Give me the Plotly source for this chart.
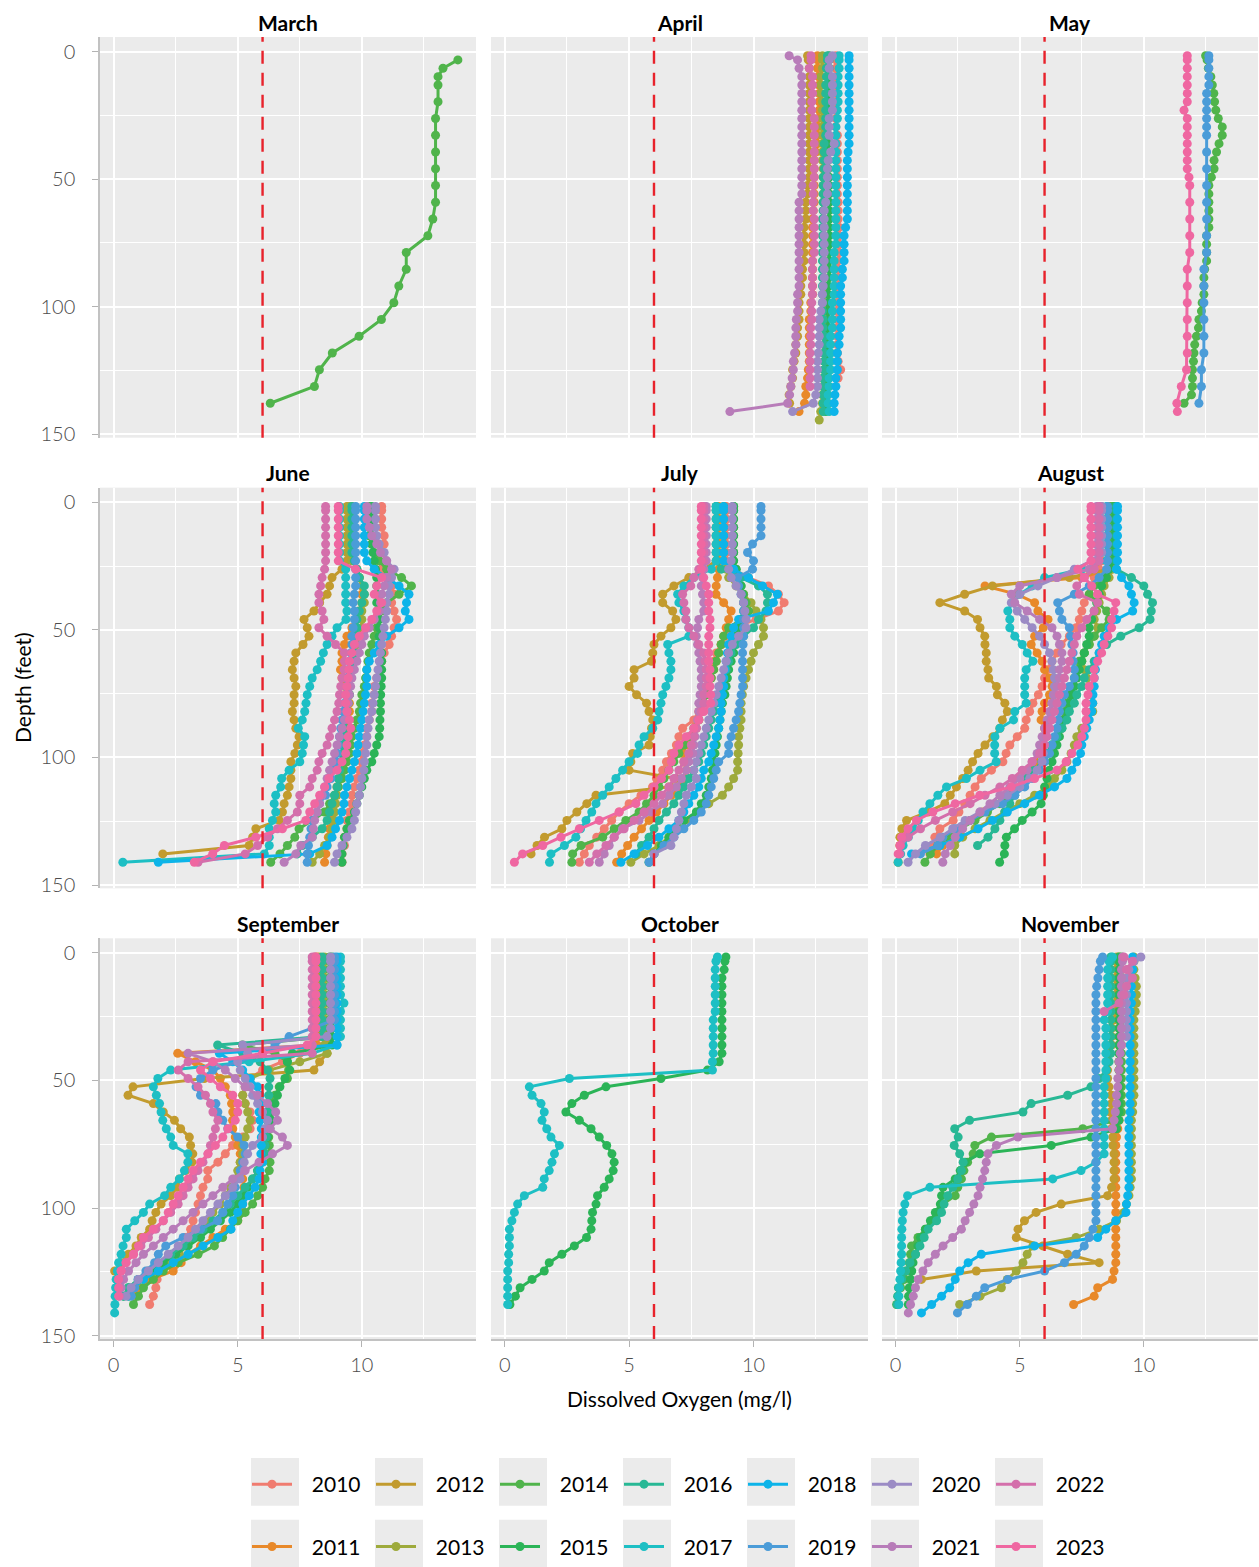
import plotly.graph_objects as go

# ---------------- data ----------------
DEPTH_M = [0.5, 1, 2, 3, 4, 5, 6, 7, 8, 9, 10, 11, 12, 13, 14, 15, 16, 17, 18, 19,
           20, 21, 22, 23, 24, 25, 26, 27, 28, 29, 30, 31, 32, 33, 34, 35, 36, 37, 38, 39,
           40, 41, 42, 43, 44]
FT_PER_M = 3.28084

MONTHS = ["March", "April", "May", "June", "July", "August", "September", "October", "November"]
YEARS = [2010, 2011, 2012, 2013, 2014, 2015, 2016, 2017, 2018, 2019, 2020, 2021, 2022, 2023]
COLORS = ["#F07C70", "#E8892A", "#C29B2E", "#9EAA3C", "#50B44B", "#2BB457", "#28B895",
          "#1DBFC4", "#0DB4E9", "#4B9CD8", "#9B8BC5", "#B87CB9", "#D46FAB", "#EF67A1"]

MARCH = {
    2014: [13.87, 13.27, 13.07, 13.07, 13.07, 12.97, 12.97, 12.97, 12.97, 12.97, 12.97, 12.86,
           12.66, 11.79, 11.79, 11.49, 11.29, 10.79, 9.89, 8.81, 8.29, 8.09, 6.31],
}
MARCH_DEPTHS = {
    2014: [1, 2, 3, 4, 6, 8, 10, 12, 14, 16, 18, 20, 22, 24, 26, 28, 30, 32, 34, 36, 38, 40, 42],
}

APRIL = {
    2010: [13.31, 13.31, 13.31, 13.31, 13.31, 13.31, 13.31, 13.31, 13.31, 13.31,
           13.37, 13.37, 13.37, 13.37, 13.37, 13.37, 13.37, 13.37, 13.4, 13.4,
           13.4, 13.44, 13.44, 13.44, 13.44, 13.4, 13.4, 13.4, 13.37, 13.37,
           13.37, 13.37, 13.37, 13.37, 13.37, 13.37, 13.37, 13.4, 13.5, 13.4],
    2011: [12.57, 12.57, 12.57, 12.6, 12.64, 12.64, 12.64, 12.64, 12.6, 12.57,
           12.57, 12.57, 12.5, 12.44, 12.44, 12.44, 12.44, 12.44, 12.44, 12.4,
           12.37, 12.37, 12.37, 12.37, 12.37, 12.37, 12.37, 12.37, 12.37, 12.37,
           12.3, 12.3, 12.24, 12.24, 12.24, 12.24, 12.24, 12.24, 12.2, 12.17,
           12.1, 12.1, 12.05, 11.83],
    2012: [12.17, 12.2, 12.24, 12.24, 12.24, 12.24, 12.24, 12.24, 12.24, 12.24,
           12.24, 12.24, 12.24, 12.24, 12.24, 12.24, 12.17, 12.17, 12.1, 12.1,
           12.1, 12.03, 12.03, 12.03, 12.03, 12.03, 11.97, 11.97, 11.9, 11.9,
           11.83, 11.83, 11.83, 11.77, 11.77, 11.7, 11.7, 11.63, 11.57, 11.57,
           11.5, 11.43, 11.45],
    2013: [12.77, 12.77, 12.77, 12.7, 12.7, 12.7, 12.77, 12.77, 12.77, 12.77,
           12.77, 12.77, 12.77, 12.77, 12.8, 12.8, 12.8, 12.8, 12.8, 12.8,
           12.8, 12.84, 12.84, 12.84, 12.84, 12.84, 12.84, 12.84, 12.84, 12.84,
           12.84, 12.84, 12.84, 12.84, 12.84, 12.84, 12.84, 12.84, 12.84, 12.8,
           12.8, 12.77, 12.77, 12.7, 12.64],
    2015: [13.04, 13.04, 13.04, 13.04, 13.04, 13.04, 13.0, 13.0, 13.0, 13.0,
           13.0, 13.0, 13.0, 13.0, 13.0, 13.04, 13.04, 13.04, 13.04, 13.04,
           13.04, 13.04, 13.04, 13.04, 13.04, 13.04, 13.04, 13.04, 13.0, 13.0,
           13.0, 13.0, 13.0, 12.97, 12.97, 12.97, 12.97, 12.97, 12.97, 12.97,
           12.93, 12.93, 12.93, 12.9],
    2016: [12.97, 12.97, 12.93, 12.93, 12.9, 12.9, 12.9, 12.9, 12.9, 12.9,
           12.9, 12.84, 12.84, 12.84, 12.84, 12.8, 12.8, 12.8, 12.8, 12.8,
           12.77, 12.77, 12.77, 12.77, 12.77, 12.77, 12.77, 12.77, 12.77, 12.77,
           12.77, 12.77, 12.8, 12.8, 12.84, 12.84, 12.84, 12.84, 12.84, 12.8,
           12.8, 12.8, 12.8, 12.8],
    2017: [13.44, 13.44, 13.44, 13.4, 13.4, 13.4, 13.4, 13.37, 13.37, 13.31,
           13.31, 13.31, 13.31, 13.31, 13.31, 13.31, 13.31, 13.31, 13.31, 13.31,
           13.31, 13.31, 13.31, 13.31, 13.24, 13.24, 13.24, 13.24, 13.24, 13.24,
           13.17, 13.17, 13.17, 13.17, 13.1, 13.1, 13.1, 13.1, 13.1, 13.04,
           13.04, 13.0, 13.0, 13.04],
    2018: [13.84, 13.84, 13.84, 13.84, 13.84, 13.84, 13.84, 13.84, 13.84, 13.84,
           13.84, 13.84, 13.8, 13.77, 13.77, 13.77, 13.77, 13.77, 13.77, 13.77,
           13.77, 13.7, 13.64, 13.64, 13.64, 13.64, 13.57, 13.57, 13.5, 13.5,
           13.5, 13.5, 13.5, 13.5, 13.44, 13.44, 13.37, 13.37, 13.37, 13.31,
           13.31, 13.27, 13.24, 13.24],
    2020: [13.17, 13.04, 13.04, 13.17, 13.17, 13.17, 13.17, 13.17, 13.04, 13.04,
           13.04, 13.24, 13.1, 13.0, 12.97, 12.97, 12.97, 12.97, 12.9, 12.84,
           12.84, 12.84, 12.84, 12.84, 12.84, 12.84, 12.84, 12.84, 12.8, 12.77,
           12.77, 12.7, 12.64, 12.64, 12.64, 12.64, 12.6, 12.57, 12.57, 12.57,
           12.57, 12.5, 12.4, 11.57],
    2021: [11.43, 11.77, 11.83, 11.94, 11.94, 11.94, 11.94, 11.94, 11.94, 11.94,
           11.94, 11.94, 11.94, 11.94, 11.94, 11.94, 11.94, 11.94, 11.83, 11.83,
           11.83, 11.83, 11.83, 11.83, 11.83, 11.83, 11.83, 11.83, 11.83, 11.77,
           11.77, 11.77, 11.72, 11.7, 11.7, 11.7, 11.65, 11.6, 11.6, 11.55,
           11.5, 11.45, 11.37, 9.05],
    2022: [12.31, 12.31, 12.24, 12.37, 12.37, 12.37, 12.34, 12.34, 12.44, 12.44,
           12.44, 12.44, 12.44, 12.44, 12.44, 12.44, 12.4, 12.4, 12.4, 12.4,
           12.44, 12.44, 12.44, 12.44, 12.44, 12.37, 12.37, 12.37, 12.37, 12.37,
           12.34, 12.34, 12.34, 12.3, 12.3, 12.3, 12.27, 12.27, 12.27, 12.27,
           12.27],
}

MAY = {
    2014: [12.49, 12.55, 12.6, 12.7, 12.76, 12.82, 12.85, 12.9, 13.0, 13.16,
           13.16, 13.03, 12.93, 12.83, 12.83, 12.72, 12.62, 12.62, 12.62, 12.62,
           12.62, 12.62, 12.53, 12.53, 12.53, 12.53, 12.45, 12.42, 12.42, 12.42,
           12.35, 12.32, 12.22, 12.2, 12.12, 12.05, 12.02, 12.0, 11.96, 11.96,
           11.96, 11.92, 11.62],
    2019: [12.62, 12.62, 12.62, 12.62, 12.62, 12.53, 12.53, 12.53, 12.53, 12.53, 12.53,
           12.53, 12.53, 12.53, 12.53, 12.53, 12.53, 12.53,
           12.42, 12.42, 12.42, 12.42, 12.42, 12.42, 12.32, 12.32, 12.22],
    2023: [11.75, 11.75, 11.75, 11.75, 11.75, 11.75, 11.75, 11.62, 11.75, 11.75,
           11.75, 11.75, 11.75, 11.75, 11.75, 11.82, 11.85,
           11.85, 11.85, 11.85, 11.85, 11.75, 11.75, 11.75, 11.75, 11.75, 11.75,
           11.72, 11.51, 11.33, 11.35],
}
MAY_DEPTHS = {
    2019: [0.5, 1, 2, 3, 4, 5, 6, 7, 8, 9, 10, 12, 14, 16, 18, 20, 22, 24, 26, 28, 30,
           32, 34, 36, 38, 40, 42],
    2023: [0.5, 1, 2, 3, 4, 5, 6, 7, 8, 9, 10, 11, 12, 13, 14, 15, 16, 18, 20, 22, 24,
           26, 28, 30, 32, 34, 36, 38, 40, 42, 43],
}

JUNE = {
    2010: [10.8, 10.8, 10.8, 10.8, 10.9, 10.9, 10.8, 10.7, 10.8, 11.0,
           11.2, 11.3, 11.2, 11.3, 11.4, 11.3, 11.2, 11.1, 10.9, 10.8,
           10.7, 10.6, 10.5, 10.5, 10.4, 10.4, 10.3, 10.2, 10.2, 10.1,
           10.0, 10.0, 9.9, 9.8, 9.7, 9.6, 9.6, 9.5, 9.4, 9.4,
           9.3, 9.3, 9.2, 9.2],
    2011: [9.6, 9.6, 9.6, 9.6, 9.6, 9.6, 9.6, 9.7, 9.8, 9.9,
           10.0, 10.0, 10.0, 9.9, 9.8, 9.6, 9.4, 9.3, 9.2, 9.2,
           9.14, 9.2, 9.3, 9.4, 9.5, 9.5, 9.45, 9.4, 9.35, 9.3,
           9.3, 9.25, 9.2, 9.1, 9.0, 8.95, 8.9, 8.8, 8.75, 8.7,
           8.65, 8.6, 8.55, 8.5],
    2012: [9.4, 9.4, 9.4, 9.4, 9.4, 9.4, 9.4, 9.4, 9.2, 8.8,
           8.7, 8.6, 8.3, 8.07, 7.67, 7.8, 7.87, 7.63, 7.34, 7.27,
           7.2, 7.27, 7.34, 7.27, 7.27, 7.2, 7.27, 7.34, 7.47, 7.4,
           7.3, 7.14, 7.14, 7.14, 7.07, 7.0, 6.87, 6.8, 6.67, 5.73,
           5.6, 5.46, 1.98],
    2013: [9.5, 9.5, 9.5, 9.5, 9.5, 9.5, 9.5, 9.6, 9.8, 9.9,
           10.0, 10.1, 10.1, 10.0, 10.0, 10.0, 9.9, 9.8, 9.7, 9.65,
           9.6, 9.55, 9.5, 9.5, 9.45, 9.4, 9.4, 9.35, 9.3, 9.3,
           9.3, 9.2, 9.15, 9.1, 9.05, 9.0, 8.95, 8.9, 8.9, 8.8,
           8.7, 8.5, 8.3, 8.0],
    2014: [10.3, 10.3, 10.3, 10.3, 10.3, 10.4, 10.5, 10.7, 11.0, 11.6,
           12.0, 11.5, 11.0, 10.8, 10.7, 10.6, 10.5, 10.4, 10.3, 10.25,
           10.2, 10.15, 10.1, 10.0, 9.95, 9.9, 9.8, 9.7, 9.6, 9.55,
           9.5, 9.4, 9.3, 9.2, 9.05, 8.9, 8.7, 8.5, 8.0, 7.47,
           7.3, 7.0, 6.7, 6.33],
    2015: [10.4, 10.4, 10.4, 10.4, 10.4, 10.4, 10.45, 10.5, 10.55, 10.6,
           10.6, 10.6, 10.6, 10.65, 10.7, 10.7, 10.7, 10.75, 10.8, 10.8,
           10.8, 10.8, 10.78, 10.76, 10.75, 10.75, 10.73, 10.72, 10.7, 10.6,
           10.5, 10.4, 10.2, 10.1, 10.0, 9.9, 9.8, 9.7, 9.5, 9.4,
           9.3, 9.25, 9.2, 9.2],
    2016: [9.6, 9.6, 9.6, 9.6, 9.6, 9.6, 9.6, 9.7, 9.8, 9.9,
           10.1, 10.1, 10.0, 9.9, 9.8, 9.8, 9.75, 9.7, 9.7, 9.65,
           9.6, 9.55, 9.5, 9.5, 9.45, 9.4, 9.35, 9.3, 9.3, 9.25,
           9.2, 9.15, 9.1, 9.05, 9.0, 8.9, 8.8, 8.7, 8.6, 8.4,
           8.0, 7.6, 7.4],
    2017: [9.1, 9.1, 9.1, 9.1, 9.1, 9.1, 9.1, 9.1, 9.35, 9.35,
           9.35, 9.35, 9.35, 9.4, 9.36, 9.0, 8.8, 8.6, 8.45, 8.34,
           8.2, 8.0, 7.9, 7.8, 7.75, 7.7, 7.6, 7.44, 7.7, 7.65,
           7.6, 7.5, 7.07, 6.77, 6.73, 6.53, 6.47, 6.53, 6.4, 6.27,
           6.27, 6.27, 6.07, 0.37],
    2018: [10.1, 10.1, 10.1, 10.1, 10.1, 10.1, 10.1, 10.2, 10.5, 11.0,
           11.5, 11.9, 11.8, 11.75, 11.9, 11.5, 11.0, 10.7, 10.5, 10.3,
           10.2, 10.2, 10.2, 10.15, 10.1, 10.05, 10.0, 9.95, 9.9, 9.85,
           9.8, 9.7, 9.6, 9.5, 9.4, 9.3, 9.28, 9.2, 9.1, 8.94,
           8.8, 8.6, 7.9, 1.8],
    2019: [9.75, 9.75, 9.75, 9.75, 9.75, 9.75, 9.75, 9.75, 9.75, 9.75,
           9.75, 9.7, 9.65, 9.7, 9.7, 9.65, 9.6, 9.6, 9.56, 9.5,
           9.45, 9.4, 9.38, 9.35, 9.3, 9.25, 9.2, 9.15, 9.1, 9.05,
           9.0, 8.95, 8.85, 8.75, 8.6, 8.54, 8.3, 8.2, 8.0, 7.95,
           7.9, 7.85, 7.8, 7.8],
    2020: [10.55, 10.55, 10.55, 10.55, 10.6, 10.7, 10.9, 11.0, 11.3, 11.2,
           11.1, 11.1, 11.0, 11.0, 10.95, 10.9, 10.85, 10.8, 10.75, 10.7,
           10.65, 10.6, 10.55, 10.5, 10.45, 10.4, 10.3, 10.25, 10.2, 10.2,
           10.15, 10.1, 10.08, 10.0, 9.95, 9.9, 9.8, 9.75, 9.7, 9.6,
           9.4, 9.2, 9.0, 8.9],
    2021: [10.2, 10.2, 10.2, 10.3, 10.4, 10.6, 10.75, 11.0, 11.2, 11.0,
           10.9, 10.8, 10.75, 10.7, 10.5, 10.3, 10.1, 10.0, 9.9, 9.8,
           9.7, 9.6, 9.55, 9.5, 9.45, 9.4, 9.3, 9.2, 9.1, 9.0,
           8.9, 8.8, 8.7, 8.6, 8.5, 8.4, 8.3, 8.2, 8.1, 8.05,
           8.0, 7.54, 7.34, 6.87],
    2022: [8.54, 8.54, 8.54, 8.54, 8.54, 8.54, 8.54, 8.54, 8.5, 8.4,
           8.34, 8.27, 8.27, 8.4, 8.47, 8.27, 8.6, 8.94, 9.3, 9.3,
           9.28, 9.2, 9.15, 9.1, 9.07, 9.0, 8.9, 8.8, 8.7, 8.6,
           8.4, 8.27, 8.2, 8.0, 7.9, 7.5, 7.5, 7.4, 7.0, 6.6,
           6.2, 5.8, 5.3, 3.4],
    2023: [9.05, 9.05, 9.05, 9.05, 9.05, 9.05, 9.05, 9.05, 9.75, 10.8,
           10.6, 10.5, 10.8, 10.6, 10.4, 10.15, 9.9, 9.7, 9.6, 9.5,
           9.48, 9.45, 9.4, 9.35, 9.35, 9.4, 9.5, 9.55, 9.45, 9.4,
           9.35, 9.2, 9.0, 8.67, 8.5, 8.3, 8.1, 7.9, 7.74, 6.8,
           5.73, 4.46, 3.99, 3.25],
}

JULY = {
    2010: [8.9, 8.9, 8.9, 8.9, 8.9, 8.9, 8.9, 8.9, 9.2, 9.8,
           10.6, 11.0, 11.23, 11.0, 10.1, 9.2, 8.9, 8.7, 8.5, 8.4,
           8.3, 8.2, 8.1, 8.0, 7.9, 7.8, 7.6, 7.15, 7.0, 6.9,
           6.7, 6.5, 6.35, 6.1, 5.94, 5.48, 5.0, 4.6, 4.3, 4.0,
           3.7, 3.4, 3.2, 3.0],
    2011: [8.6, 8.6, 8.6, 8.6, 8.6, 8.6, 8.6, 8.6, 8.6, 8.55,
           8.5, 8.49, 8.8, 9.1, 9.0, 8.9, 8.8, 8.7, 8.6, 8.5,
           8.4, 8.3, 8.2, 8.1, 8.0, 7.9, 7.8, 7.7, 7.5, 7.3,
           7.15, 7.2, 7.3, 7.2, 7.0, 6.7, 6.4, 6.1, 5.8, 5.5,
           5.2, 4.94, 4.7, 4.5],
    2012: [8.5, 8.5, 8.5, 8.5, 8.5, 8.5, 8.5, 8.5, 8.0, 7.4,
           6.8, 6.35, 6.35, 6.75, 6.88, 6.68, 6.28, 6.0, 5.95, 5.9,
           5.2, 5.2, 5.0, 5.3, 5.7, 5.8, 5.95, 5.9, 5.85, 5.8,
           5.14, 5.07, 5.0, 6.88, 6.6, 3.67, 3.3, 2.9, 2.5, 2.3,
           1.6, 1.3, 1.06],
    2013: [8.8, 8.8, 8.8, 8.8, 8.8, 8.8, 8.8, 8.8, 8.9, 9.0,
           9.3, 9.6, 9.9, 10.1, 10.3, 10.4, 10.4, 10.2, 10.0, 9.9,
           9.8, 9.7, 9.6, 9.55, 9.5, 9.5, 9.5, 9.45, 9.4, 9.4,
           9.38, 9.36, 9.36, 9.2, 9.0, 8.75, 8.2, 7.8, 7.4, 7.0,
           6.6, 6.2, 5.6, 5.07],
    2014: [9.2, 9.2, 9.2, 9.2, 9.2, 9.2, 9.2, 9.2, 9.3, 9.4,
           9.5, 9.6, 9.7, 9.8, 9.5, 9.0, 8.8, 8.7, 8.6, 8.5,
           8.4, 8.3, 8.2, 8.1, 8.0, 7.9, 7.8, 7.6, 7.4, 7.2,
           7.0, 6.8, 6.6, 6.4, 6.2, 6.0, 5.7, 5.4, 4.87, 4.4,
           3.94, 3.07, 2.73, 2.7],
    2015: [9.2, 9.2, 9.2, 9.2, 9.2, 9.2, 9.2, 9.2, 9.3, 9.4,
           9.5, 9.55, 9.6, 9.6, 9.5, 9.4, 9.3, 9.25, 9.2, 9.1,
           9.0, 8.95, 8.9, 8.85, 8.75, 8.7, 8.65, 8.6, 8.55, 8.5,
           8.45, 8.4, 8.35, 8.3, 8.2, 8.1, 7.9, 7.7, 7.2, 6.8,
           6.6, 6.3, 6.0, 5.8],
    2016: [8.5, 8.5, 8.5, 8.5, 8.5, 8.5, 8.5, 8.5, 8.7, 9.5,
           10.2, 10.56, 10.56, 10.5, 10.2, 10.0, 9.6, 9.3, 9.1, 9.0,
           8.9, 8.8, 8.7, 8.6, 8.5, 8.4, 8.3, 8.2, 8.1, 8.0,
           7.9, 7.8, 7.6, 7.4, 7.2, 7.0, 6.8, 6.5, 6.2, 6.0,
           5.8, 5.5, 5.27],
    2017: [8.5, 8.5, 8.5, 8.5, 8.5, 8.5, 8.5, 8.5, 8.3, 7.6,
           7.2, 6.95, 7.0, 7.2, 7.28, 7.4, 7.4, 6.55, 6.6, 6.68,
           6.68, 6.6, 6.48, 6.35, 6.28, 6.2, 6.15, 5.95, 5.6, 5.4,
           5.34, 5.0, 4.74, 4.47, 4.2, 3.94, 3.67, 3.5, 3.27, 3.05,
           2.86, 2.4, 1.86, 1.8],
    2018: [8.8, 8.8, 8.8, 8.8, 8.8, 8.8, 8.8, 8.8, 9.2, 9.8,
           10.36, 10.96, 10.8, 10.6, 9.4, 9.2, 9.1, 9.0, 8.95, 8.9,
           8.85, 8.8, 8.8, 8.75, 8.7, 8.7, 8.65, 8.6, 8.5, 8.4,
           8.3, 8.2, 8.0, 7.9, 7.8, 7.6, 7.4, 7.2, 7.0, 6.6,
           6.2, 5.74, 5.2, 4.67],
    2019: [10.3, 10.3, 10.3, 10.3, 10.3, 9.96, 9.76, 10.0, 9.96, 9.36,
           9.4, 9.5, 9.6, 9.6, 9.6, 9.6, 9.6, 9.58, 9.56, 9.56,
           9.56, 9.56, 9.56, 9.5, 9.45, 9.4, 9.3, 9.2, 9.1, 9.0,
           9.0, 8.6, 8.5, 8.4, 8.3, 8.2, 8.1, 7.9, 7.6, 7.2,
           6.8, 6.4, 6.0, 5.8],
    2020: [9.15, 9.15, 9.15, 9.15, 9.15, 9.15, 9.15, 9.1, 9.0, 9.1,
           9.3, 9.5, 9.6, 9.65, 9.7, 9.7, 9.4, 9.15, 9.0, 8.9,
           8.8, 8.7, 8.6, 8.5, 8.4, 8.3, 8.2, 8.1, 8.0, 7.9,
           7.8, 7.7, 7.6, 7.7, 7.5, 7.3, 7.2, 7.1, 7.0, 6.9,
           6.8, 6.68, 6.0],
    2021: [8.1, 8.1, 8.1, 8.1, 8.1, 8.1, 8.1, 8.1, 8.0, 7.95,
           7.9, 7.95, 8.0, 8.0, 7.8, 7.75, 7.7, 7.75, 7.8, 7.85,
           7.9, 7.9, 7.9, 7.85, 7.8, 7.8, 7.75, 7.7, 7.65, 7.6,
           7.56, 7.4, 7.3, 7.1, 6.9, 6.6, 6.35, 5.9, 5.4, 4.74,
           4.4, 4.2, 4.0, 3.8],
    2022: [8.0, 8.0, 8.0, 8.0, 8.0, 8.0, 8.0, 8.0, 7.8, 7.6,
           7.48, 7.15, 7.2, 7.28, 7.28, 7.4, 7.6, 7.8, 8.0, 8.05,
           8.1, 8.1, 8.1, 8.0, 8.0, 7.9, 7.8, 7.7, 7.6, 7.5,
           7.4, 7.2, 7.0, 6.8, 6.6, 6.3, 6.0, 5.6, 5.2, 4.8,
           4.4, 4.07, 3.7, 3.4],
    2023: [7.9, 7.9, 7.9, 7.9, 7.9, 7.9, 7.9, 7.9, 7.9, 8.0,
           8.1, 8.2, 8.2, 8.2, 8.25, 8.25, 8.2, 8.2, 8.2, 8.2,
           8.25, 8.25, 8.25, 8.28, 8.28, 8.0, 7.8, 7.6, 7.3, 7.0,
           6.8, 6.7, 6.6, 6.3, 6.0, 5.6, 5.27, 4.6, 3.8, 3.0,
           2.26, 1.53, 0.72, 0.39],
}

AUGUST = {
    2010: [8.3, 8.3, 8.3, 8.3, 8.3, 8.3, 8.3, 8.3, 8.2, 8.0,
           7.9, 7.8, 7.6, 7.5, 7.4, 7.27, 7.0, 6.67, 6.5, 6.3,
           6.1, 6.0, 5.9, 5.75, 5.53, 5.4, 5.26, 5.2, 4.9, 4.6,
           4.45, 4.32, 3.86, 3.45, 3.2, 3.0, 2.78, 2.55, 2.32, 1.78,
           1.58, 1.48, 1.38],
    2011: [8.6, 8.6, 8.6, 8.6, 8.6, 8.6, 8.6, 8.6, 8.6, 7.5,
           3.6, 4.9, 5.6, 5.73, 6.14, 5.95, 5.6, 5.46, 5.7, 5.9,
           6.0, 6.2, 6.3, 6.2, 6.0, 5.9, 5.86, 6.0, 6.0, 5.9,
           5.8, 5.6, 5.4, 5.1, 5.0, 4.5, 4.0, 3.5, 3.0, 2.6,
           2.2, 1.9, 1.65],
    2012: [8.6, 8.6, 8.6, 8.6, 8.6, 8.6, 8.6, 8.6, 8.6, 7.0,
           3.9, 2.78, 1.78, 2.78, 3.3, 3.4, 3.59, 3.6, 3.65, 3.65,
           3.72, 3.75, 4.06, 4.1, 4.4, 4.5, 4.3, 4.2, 3.92, 3.6,
           3.32, 3.1, 2.92, 2.7, 2.45, 2.2, 1.98, 1.3, 0.44, 0.25,
           0.17, 0.17, 0.17, 0.1],
    2013: [8.8, 8.8, 8.8, 8.8, 8.8, 8.8, 8.8, 8.8, 8.74, 8.6,
           8.4, 8.3, 8.2, 8.1, 8.0, 8.14, 8.0, 7.8, 7.6, 7.5,
           7.6, 7.7, 7.8, 7.9, 7.94, 7.94, 7.7, 7.5, 7.3, 7.2,
           7.07, 6.9, 6.7, 6.4, 6.1, 5.6, 5.0, 4.4, 3.8, 3.2,
           2.7, 2.38, 2.38],
    2014: [8.7, 8.7, 8.7, 8.7, 8.7, 8.7, 8.7, 8.7, 8.6, 8.4,
           8.0, 7.8, 8.14, 8.5, 8.6, 8.3, 8.0, 7.8, 7.6, 7.4,
           7.3, 7.2, 7.1, 7.0, 6.9, 6.8, 6.7, 6.6, 6.5, 6.3,
           6.1, 5.9, 5.6, 5.3, 5.0, 4.6, 4.2, 3.7, 3.2, 2.6,
           2.1, 1.7, 1.4, 1.18],
    2015: [8.8, 8.8, 8.8, 8.8, 8.8, 8.8, 8.8, 8.8, 8.6, 8.5,
           8.3, 8.2, 8.1, 8.0, 7.9, 7.8, 7.8, 7.7, 7.6, 7.5,
           7.4, 7.3, 7.2, 7.1, 7.0, 6.9, 6.8, 6.7, 6.6, 6.5,
           6.4, 6.3, 6.2, 6.1, 6.0, 5.95, 5.86, 5.5, 5.1, 4.79,
           4.46, 4.4, 4.38, 4.19],
    2016: [8.9, 8.9, 8.9, 8.9, 8.9, 8.9, 8.9, 8.9, 8.9, 9.5,
           10.0, 10.15, 10.35, 10.3, 10.25, 9.81, 9.07, 8.5, 8.2, 8.0,
           7.8, 7.6, 7.5, 7.3, 7.2, 7.0, 6.9, 6.7, 6.5, 6.3,
           6.1, 5.9, 5.6, 5.3, 5.0, 4.8, 4.6, 4.4, 4.2, 4.0,
           3.72, 3.3],
    2017: [8.5, 8.5, 8.5, 8.5, 8.5, 8.5, 8.5, 8.5, 7.5, 6.0,
           5.5, 5.0, 4.7, 4.52, 4.6, 4.6, 4.8, 5.1, 5.3, 5.53,
           5.26, 5.2, 5.2, 5.2, 5.26, 4.8, 4.75, 4.2, 4.0, 3.99,
           3.99, 4.05, 3.4, 2.85, 2.05, 1.7, 1.38, 1.1, 0.91, 0.7,
           0.51, 0.3, 0.2, 0.1],
    2018: [8.94, 8.94, 8.94, 8.94, 8.94, 8.94, 8.94, 8.94, 8.9, 9.1,
           9.4, 9.5, 9.61, 9.55, 8.9, 8.6, 8.4, 8.3, 8.2, 8.1,
           8.05, 8.0, 8.0, 7.95, 7.94, 7.9, 7.8, 7.7, 7.6, 7.5,
           7.45, 7.3, 7.1, 6.9, 6.4, 5.8, 5.2, 4.5, 3.9, 3.32,
           2.58, 1.78, 0.64],
    2019: [8.54, 8.54, 8.54, 8.54, 8.54, 8.54, 8.54, 8.54, 8.5, 8.2,
           7.8, 7.2, 6.53, 6.6, 6.7, 7.0, 7.05, 7.1, 7.15, 7.15,
           7.2, 7.2, 7.0, 6.8, 6.7, 6.6, 6.55, 6.5, 6.4, 6.3,
           6.2, 6.0, 5.8, 5.5, 5.2, 4.8, 4.3, 3.6, 3.0, 2.4,
           1.9, 1.7, 1.0],
    2020: [8.3, 8.3, 8.3, 8.3, 8.3, 8.3, 8.3, 7.9, 7.2, 6.5,
           5.73, 5.0, 4.66, 4.9, 5.2, 5.5, 5.8, 6.0, 6.2, 6.3,
           6.35, 6.4, 6.4, 6.35, 6.3, 6.25, 6.2, 6.1, 6.05, 6.0,
           5.95, 5.9, 5.7, 5.4, 5.0, 4.5, 4.0, 3.4, 2.8, 2.3,
           1.8, 1.2, 0.8, 0.5],
    2021: [8.1, 8.1, 8.1, 8.1, 8.1, 8.1, 8.1, 8.1, 7.8, 6.5,
           5.0, 4.66, 4.8, 5.3, 5.8, 6.3, 6.5, 6.6, 6.7, 6.7,
           6.6, 6.6, 6.5, 6.4, 6.3, 6.2, 6.1, 6.0, 5.9, 5.8,
           5.7, 5.5, 5.3, 5.0, 4.6, 4.2, 3.8, 3.4, 3.0, 2.7,
           2.4, 2.2, 2.0, 1.9],
    2022: [8.2, 8.2, 8.2, 8.2, 8.2, 8.2, 8.2, 8.2, 8.0, 7.6,
           7.3, 7.4, 8.14, 8.0, 7.7, 7.5, 7.3, 7.2, 7.1, 7.0,
           6.9, 6.8, 6.7, 6.6, 6.5, 6.4, 6.3, 6.2, 6.1, 6.0,
           5.8, 5.5, 5.1, 4.7, 4.2, 3.6, 3.0, 2.3, 1.6, 1.0,
           0.5, 0.2, 0.17],
    2023: [7.87, 7.87, 7.87, 7.87, 7.87, 7.87, 7.87, 7.87, 7.34, 7.6,
           7.9, 8.14, 8.87, 8.8, 8.7, 8.7, 8.55, 8.4, 8.3, 8.14,
           8.0, 8.0, 7.8, 7.75, 7.67, 7.67, 7.67, 7.6, 7.5, 7.34,
           7.1, 6.87, 6.5, 5.6, 4.66, 3.39, 2.4, 1.5, 0.84, 0.5,
           0.24, 0.17, 0.1],
}

SEPTEMBER = {
    2010: [8.1, 8.1, 8.1, 8.1, 8.1, 8.1, 8.1, 8.1, 8.1, 8.1,
           8.1, 7.9, 7.5, 6.8, 6.0, 5.5, 5.3, 5.2, 5.3, 5.5,
           5.6, 5.5, 5.2, 4.79, 4.5, 4.2, 3.79, 3.79, 3.6, 3.5,
           3.4, 3.3, 3.2, 3.1, 2.9, 2.7, 2.4, 2.2, 1.8, 1.75,
           1.7, 1.6, 1.45],
    2011: [8.2, 8.2, 8.2, 8.2, 8.2, 8.2, 8.2, 8.2, 8.2, 8.2,
           8.2, 8.2, 2.58, 3.3, 4.0, 4.3, 4.5, 4.7, 4.75, 4.8,
           4.79, 4.8, 4.9, 5.0, 5.1, 5.1, 5.2, 5.2, 5.25, 5.25,
           5.2, 5.2, 5.0, 4.5, 4.0, 3.5, 3.0, 2.72, 2.4, 1.5,
           1.0, 0.8],
    2012: [8.3, 8.3, 8.3, 8.3, 8.3, 8.3, 8.3, 8.3, 8.3, 8.3,
           8.3, 8.6, 8.6, 8.3, 8.07, 3.65, 0.78, 0.58, 1.6, 2.0,
           2.45, 2.7, 3.05, 3.1, 3.19, 3.15, 2.9, 2.65, 2.55, 2.3,
           1.91, 1.7, 1.55, 1.45, 1.11, 0.9, 0.6, 0.3, 0.04],
    2013: [8.5, 8.5, 8.5, 8.5, 8.5, 8.5, 8.5, 8.5, 8.5, 8.5,
           8.5, 8.5, 8.6, 7.5, 6.27, 5.5, 5.3, 5.2, 5.3, 5.4,
           5.5, 5.4, 5.3, 5.2, 5.2, 5.1, 5.0, 4.9, 4.7, 4.5,
           4.3, 4.0, 3.7, 3.4, 3.1, 2.9, 2.65, 2.2, 1.6, 1.2,
           0.8, 0.6],
    2014: [8.7, 8.7, 8.7, 8.7, 8.7, 8.7, 8.7, 8.7, 8.7, 8.7,
           8.7, 5.19, 6.5, 7.0, 7.05, 7.0, 6.67, 6.5, 6.3, 6.2,
           6.2, 6.2, 6.25, 6.27, 6.3, 6.3, 6.27, 6.1, 6.0, 5.8,
           5.6, 5.3, 5.0, 4.7, 4.39, 4.06, 3.4, 2.6, 2.0, 1.6,
           1.2, 1.0, 0.8],
    2015: [8.8, 8.8, 8.8, 8.8, 8.8, 8.8, 8.8, 8.8, 8.8, 8.8,
           8.8, 8.8, 7.2, 7.0, 7.1, 6.9, 6.7, 6.6, 6.5, 6.4,
           6.35, 6.3, 6.2, 6.1, 6.0, 5.9, 5.8, 5.6, 5.4, 5.2,
           5.0, 4.7, 4.3, 3.9, 3.5, 3.0, 2.5, 2.0, 1.5, 1.0,
           0.6, 0.4],
    2016: [8.4, 8.4, 8.4, 8.4, 8.4, 8.4, 8.4, 8.4, 8.4, 8.4,
           8.4, 4.19, 5.2, 5.9, 6.2, 6.3, 6.25, 6.25, 6.2, 6.2,
           6.2, 6.15, 6.15, 6.1, 6.1, 6.0, 5.8, 5.6, 5.3, 5.0,
           4.7, 4.4, 4.0, 3.6, 3.2, 2.8, 2.3, 1.8, 1.4, 1.0,
           0.6, 0.4],
    2017: [9.14, 9.14, 9.14, 9.14, 9.14, 9.14, 9.28, 9.14, 9.14, 9.14,
           9.14, 9.0, 8.0, 5.46, 2.3, 1.78, 1.6, 1.72, 1.85, 1.91,
           1.98, 2.12, 2.3, 2.4, 2.99, 2.99, 2.85, 2.65, 2.3, 2.05,
           1.45, 1.2, 0.85, 0.51, 0.51, 0.38, 0.3, 0.2, 0.15, 0.1,
           0.08, 0.06, 0.05, 0.04],
    2018: [9.0, 9.0, 9.0, 9.0, 9.0, 9.0, 9.0, 9.0, 9.0, 9.0,
           9.0, 9.0, 4.26, 4.8, 5.2, 5.5, 5.8, 5.9, 5.9, 5.86,
           5.9, 5.95, 5.95, 5.95, 5.93, 6.0, 5.9, 5.86, 5.7, 5.46,
           5.2, 5.0, 4.8, 4.73, 4.2, 3.6, 3.0, 2.4, 1.8, 1.2,
           0.8, 0.6],
    2019: [8.9, 8.9, 8.9, 8.9, 8.9, 8.9, 8.9, 8.9, 8.9, 8.0,
           7.07, 6.5, 6.0, 5.0, 4.0, 3.5, 3.32, 3.5, 4.12, 4.2,
           4.4, 4.6, 5.0, 5.26, 5.3, 5.2, 5.1, 5.0, 4.9, 4.8,
           4.6, 4.4, 4.19, 3.5, 2.8, 2.1, 1.8, 1.65, 1.3, 0.98,
           0.85, 0.71],
    2020: [8.74, 8.74, 8.74, 8.74, 8.74, 8.74, 8.74, 8.74, 8.74, 8.74,
           8.6, 5.2, 5.4, 5.0, 5.1, 5.3, 5.5, 5.6, 5.8, 6.0,
           6.2, 6.1, 6.0, 5.6, 5.4, 5.26, 5.26, 5.1, 4.8, 4.5,
           4.2, 3.9, 3.6, 3.3, 3.0, 2.6, 2.2, 1.8, 1.4, 1.0,
           0.7, 0.5],
    2021: [8.1, 8.1, 8.1, 8.1, 8.1, 8.1, 8.1, 8.1, 8.1, 8.1,
           8.1, 8.0, 3.0, 4.0, 4.5, 4.9, 5.3, 5.8, 6.2, 6.53,
           6.6, 6.3, 6.8, 7.0, 6.4, 5.86, 5.3, 4.8, 4.4, 4.0,
           3.6, 3.2, 2.8, 2.4, 2.0, 1.6, 1.2, 0.9, 0.6, 0.4,
           0.3, 0.25],
    2022: [8.0, 8.0, 8.0, 8.0, 8.0, 8.0, 8.0, 8.0, 8.0, 8.0,
           8.0, 8.0, 8.0, 3.0, 2.6, 3.0, 3.4, 3.7, 3.9, 4.0,
           4.2, 4.1, 4.0, 3.9, 3.8, 3.6, 3.4, 3.2, 3.0, 2.8,
           2.6, 2.3, 2.0, 1.7, 1.4, 1.1, 0.8, 0.5, 0.3, 0.2],
    2023: [8.15, 8.15, 8.15, 8.15, 8.15, 8.15, 8.15, 8.15, 8.15, 8.15,
           8.15, 7.8, 6.0, 4.0, 3.5, 3.9, 4.3, 4.8, 5.0, 5.0,
           4.9, 4.6, 4.4, 4.1, 3.8, 3.5, 3.2, 3.0, 2.8, 2.6,
           2.4, 2.2, 2.0, 1.6, 1.2, 1.0, 0.8, 0.5, 0.3, 0.2,
           0.2, 0.2],
}

OCTOBER = {
    2015: [8.89, 8.85, 8.82, 8.73, 8.73, 8.73, 8.73, 8.73, 8.73, 8.73,
           8.73, 8.73, 8.73, 8.62, 8.15, 6.28, 4.07, 3.2, 2.7, 2.46,
           3.0, 3.47, 3.8, 4.1, 4.31, 4.4, 4.36, 4.2, 4.0, 3.73,
           3.67, 3.53, 3.5, 3.47, 3.29, 2.8, 2.3, 1.79, 1.59, 1.1,
           0.62, 0.43, 0.21],
    2017: [8.55, 8.49, 8.46, 8.46, 8.46, 8.46, 8.46, 8.46, 8.38, 8.38,
           8.38, 8.38, 8.38, 8.35, 8.35, 2.6, 0.99, 1.1, 1.46, 1.59,
           1.5, 1.69, 1.86, 2.2, 2.0, 1.9, 1.79, 1.59, 1.53, 0.79,
           0.52, 0.39, 0.29, 0.19, 0.19, 0.19, 0.16, 0.16, 0.12, 0.12,
           0.12, 0.12, 0.12],
}

NOVEMBER = {
    2011: [9.0, 9.0, 9.0, 9.0, 9.0, 9.0, 9.0, 9.0, 9.0, 9.0,
           9.0, 9.0, 9.0, 9.0, 9.0, 9.0, 9.0, 9.0, 9.0, 9.0,
           9.0, 8.95, 8.9, 8.87, 8.87, 8.87, 8.87, 8.87, 8.87, 8.87,
           8.87, 8.87, 8.87, 8.87, 8.87, 8.87, 8.87, 8.87, 8.8, 8.74,
           8.14, 8.0, 7.17],
    2012: [8.9, 8.9, 8.87, 8.87, 8.87, 8.87, 8.87, 8.87, 8.8, 8.7,
           8.7, 8.7, 8.6, 8.54, 8.54, 8.54, 8.6, 8.7, 8.7, 8.65,
           8.7, 8.7, 8.75, 8.75, 8.8, 8.8, 8.8, 8.8, 8.7, 8.54,
           6.67, 5.66, 5.19, 4.93, 4.86, 5.93, 6.93, 8.2, 3.25, 1.04],
    2013: [9.6, 9.6, 9.6, 9.65, 9.7, 9.7, 9.7, 9.65, 9.6, 9.6,
           9.6, 9.6, 9.6, 9.6, 9.6, 9.6, 9.6, 9.6, 9.55, 9.55,
           9.5, 9.5, 9.5, 9.5, 9.5, 9.5, 9.5, 9.5, 9.45, 9.4,
           9.3, 9.2, 8.9, 8.2, 7.27, 5.53, 5.3, 5.13, 4.86, 4.5,
           4.26, 3.4, 2.58],
    2014: [9.1, 9.1, 9.1, 9.1, 9.1, 9.1, 9.1, 9.1, 9.1, 9.1,
           9.1, 9.1, 9.1, 9.1, 9.1, 9.1, 9.1, 9.1, 9.1, 9.1,
           8.9, 7.54, 3.86, 3.19, 3.12, 2.9, 2.75, 2.65, 2.5, 2.4,
           1.91, 1.7, 1.45, 1.2, 0.9, 0.64, 0.6, 0.55, 0.45, 0.35,
           0.2, 0.1, 0.04],
    2015: [9.0, 9.0, 9.0, 9.0, 9.0, 9.0, 9.0, 9.0, 9.0, 9.0,
           9.0, 9.0, 9.0, 9.0, 9.0, 9.0, 9.0, 9.0, 9.0, 9.0,
           9.0, 8.9, 7.87, 6.27, 3.39, 2.8, 2.6, 2.4, 1.91, 1.85,
           1.8, 1.6, 1.4, 1.2, 1.0, 0.9, 0.8, 0.7, 0.65, 0.6,
           0.55, 0.52, 0.51],
    2016: [8.67, 8.67, 8.67, 8.67, 8.67, 8.67, 8.67, 8.67, 8.67, 8.67,
           8.67, 8.67, 8.67, 8.6, 8.5, 8.2, 7.87, 6.93, 5.46, 5.13,
           2.98, 2.38, 2.52, 2.36, 2.58, 2.72, 2.65, 2.5, 2.3, 2.1,
           1.95, 1.85, 1.65, 1.31, 1.15, 0.98, 0.8, 0.58, 0.4, 0.24,
           0.11, 0.08, 0.06],
    2017: [8.74, 8.6, 8.54, 8.54, 8.54, 8.54, 8.54, 8.54, 8.4, 8.47,
           8.47, 8.47, 8.47, 8.47, 8.47, 8.47, 8.4, 8.4, 8.4, 8.4,
           8.4, 8.4, 8.4, 8.4, 8.4, 8.07, 7.47, 6.33, 1.38, 0.48,
           0.37, 0.3, 0.27, 0.25, 0.24, 0.24, 0.24, 0.22, 0.2, 0.17,
           0.15, 0.13, 0.13],
    2018: [9.55, 9.55, 9.55, 9.5, 9.5, 9.5, 9.5, 9.45, 9.45, 9.45,
           9.45, 9.45, 9.45, 9.45, 9.45, 9.45, 9.45, 9.45, 9.45, 9.45,
           9.4, 9.4, 9.4, 9.4, 9.4, 9.4, 9.4, 9.4, 9.4, 9.35,
           9.3, 9.28, 8.87, 8.47, 8.14, 5.6, 3.45, 2.92, 2.58, 2.4,
           2.18, 1.85, 1.45, 1.04],
    2019: [8.34, 8.25, 8.2, 8.15, 8.1, 8.07, 8.07, 8.07, 8.07, 8.07,
           8.07, 8.07, 8.07, 8.07, 8.07, 8.07, 8.07, 8.07, 8.07, 8.07,
           8.07, 8.07, 8.07, 8.07, 8.07, 8.07, 8.07, 8.07, 8.07, 8.07,
           8.07, 8.07, 8.07, 7.95, 7.8, 7.6, 7.27, 6.8, 6.0, 4.52,
           3.59, 3.25, 2.89, 2.49],
    2020: [9.88, 9.6, 9.4, 9.3, 9.3, 9.3, 9.3, 9.3, 9.3, 9.3, 9.3],
    2021: [9.14, 9.14, 9.1, 9.1, 9.1, 9.1, 9.1, 9.1, 9.1, 9.1,
           9.1, 9.1, 9.05, 9.0, 9.0, 8.95, 8.95, 8.9, 8.9, 8.85,
           8.8, 8.74, 4.93, 4.06, 3.72, 3.65, 3.59, 3.5, 3.4, 3.32,
           3.15, 2.98, 2.8, 2.65, 2.3, 1.91, 1.6, 1.31, 1.1, 0.91,
           0.8, 0.71, 0.6, 0.51],
    2022: [9.2, 9.54, 9.3, 9.54, 9.3, 9.2, 9.0, 8.4],
}

MONTH_DATA = [MARCH, APRIL, MAY, JUNE, JULY, AUGUST, SEPTEMBER, OCTOBER, NOVEMBER]
MONTH_DEPTHS = [MARCH_DEPTHS, {}, MAY_DEPTHS, {}, {}, {}, {}, {}, {}]

X_TICKS = [0, 5, 10]
X_MINOR = [2.5, 7.5, 12.5]
Y_TICKS = [0, 50, 100, 150]
Y_MINOR = [25, 75, 125]
DO_THRESHOLD = 6

# ---------------- layout geometry (pixels of the 1259x1567 page) ----------------
W, H = 1259, 1567
PLOT_L, PLOT_R, PLOT_T, PLOT_B = 100, 1258, 37, 1340
COL_PX = [(100, 476), (491, 868), (882, 1258)]
ROW_PX = [(37, 438), (488, 889), (939, 1340)]


def px_x(px):
    return (px - PLOT_L) / (PLOT_R - PLOT_L)


def px_y(py):
    return (PLOT_B - py) / (PLOT_B - PLOT_T)


COL_DOMAINS = [[px_x(a), px_x(b)] for a, b in COL_PX]
ROW_DOMAINS = [[px_y(b), px_y(a)] for a, b in ROW_PX]

FONT = "Lato"
LEGEND_PAD = "\u2007\u2009"  # small visual gap between key box and label

fig = go.Figure()

color_of = dict(zip(YEARS, COLORS))
shown = set()
for i, month in enumerate(MONTHS):
    data = MONTH_DATA[i]
    dmap = MONTH_DEPTHS[i]
    ax = "" if i == 0 else str(i + 1)
    for year in sorted(data):
        vals = data[year]
        dm = dmap.get(year, DEPTH_M[:len(vals)])
        depth_ft = [d * FT_PER_M for d in dm]
        first = year not in shown
        shown.add(year)
        k = (year - 2010) // 2
        fig.add_trace(go.Scatter(
            x=vals, y=depth_ft, mode="lines+markers", name=LEGEND_PAD + str(year),
            legendgroup=str(year), showlegend=first,
            legend="legend" if k == 0 else "legend%d" % (k + 1),
            legendrank=year,
            line=dict(color=color_of[year], width=3),
            marker=dict(color=color_of[year], size=9),
            xaxis="x" + ax, yaxis="y" + ax,
            hovertemplate="%{x} mg/l<br>%{y:.0f} ft<extra>" + str(year) + "</extra>",
        ))

layout = dict(
    width=W, height=H,
    margin=dict(l=PLOT_L, r=W - PLOT_R, t=PLOT_T, b=H - PLOT_B),
    paper_bgcolor="white", plot_bgcolor="#EBEBEB",
    font=dict(family=FONT, size=19, color="#000000"),
    shapes=[], annotations=[],
)

tickfont = dict(family=FONT, size=20, color="#4D4D4D", weight=300)
for i, month in enumerate(MONTHS):
    r, c = divmod(i, 3)
    ax = "" if i == 0 else str(i + 1)
    bottom = r == 2
    left = c == 0
    layout["xaxis" + ax] = dict(
        domain=COL_DOMAINS[c], anchor="y" + ax, range=[-0.55, 14.6],
        tickvals=X_TICKS, showticklabels=bottom, ticks="outside" if bottom else "",
        ticklen=6, tickwidth=1.3, tickcolor="#B3B3B3", ticklabelstandoff=1,
        tickfont=tickfont,
        showgrid=True, gridcolor="white", gridwidth=1.8, zeroline=False,
        minor=dict(tickvals=X_MINOR, showgrid=True, gridcolor="white", gridwidth=1.1, ticks=""),
        showline=bottom, linecolor="#C2C2C2", linewidth=1.5,
        fixedrange=True,
    )
    layout["yaxis" + ax] = dict(
        domain=ROW_DOMAINS[r], anchor="x" + ax, range=[151.3, -5.7],
        tickvals=Y_TICKS, showticklabels=left, ticks="outside" if left else "",
        ticklen=6, tickwidth=1.3, tickcolor="#B3B3B3", ticklabelstandoff=13,
        tickfont=tickfont,
        showgrid=True, gridcolor="white", gridwidth=1.8, zeroline=False,
        minor=dict(tickvals=Y_MINOR, showgrid=True, gridcolor="white", gridwidth=1.1, ticks=""),
        showline=left, linecolor="#C2C2C2", linewidth=1.5,
        fixedrange=True,
    )
    layout["shapes"].append(dict(
        type="line", xref="x" + ax, yref="y" + ax + " domain",
        x0=DO_THRESHOLD, x1=DO_THRESHOLD, y0=0, y1=1,
        line=dict(color="#E8222B", width=2.4, dash="13px,9px"), layer="above",
    ))
    layout["annotations"].append(dict(
        text="<b>" + month + "</b>", xref="paper", yref="paper",
        x=(COL_DOMAINS[c][0] + COL_DOMAINS[c][1]) / 2, y=ROW_DOMAINS[r][1],
        xanchor="center", yanchor="middle", yshift=15, showarrow=False,
        font=dict(family=FONT, size=21, color="black"),
    ))

layout["annotations"].append(dict(
    text="Dissolved Oxygen (mg/l)", xref="paper", yref="paper", x=0.5, y=0,
    xanchor="center", yanchor="middle", yshift=-59, showarrow=False,
    font=dict(family=FONT, size=21, color="black"),
))
layout["annotations"].append(dict(
    text="Depth (feet)", xref="paper", yref="paper", x=0, y=0.5,
    xanchor="center", yanchor="middle", xshift=-78, textangle=-90, showarrow=False,
    font=dict(family=FONT, size=21, color="black"),
))

# legend: 7 columns x 2 rows, grey key boxes behind symbols
LEG_X0, LEG_STEP, KEY = 251, 124, 48
LEG_ROWS_TOP = [1459, 1521]
for k in range(7):
    name = "legend" if k == 0 else "legend%d" % (k + 1)
    layout[name] = dict(
        orientation="v",
        x=px_x(LEG_X0 + LEG_STEP * k - 4), y=px_y(1464),
        xanchor="left", yanchor="top",
        font=dict(family=FONT, size=21, color="black"), bgcolor="rgba(0,0,0,0)",
        itemwidth=40, traceorder="grouped", tracegroupgap=32,
        itemclick=False, itemdoubleclick=False,
    )
    for top in LEG_ROWS_TOP:
        x0 = LEG_X0 + LEG_STEP * k
        layout["shapes"].append(dict(
            type="rect", xref="paper", yref="paper",
            x0=px_x(x0), x1=px_x(x0 + KEY), y0=px_y(top + KEY), y1=px_y(top),
            fillcolor="#EBEBEB", line=dict(width=0), layer="below",
        ))

fig.update_layout(**layout)
fig.write_html("out.html", config={"displayModeBar": False},
               post_script="document.body.style.margin='0';")
